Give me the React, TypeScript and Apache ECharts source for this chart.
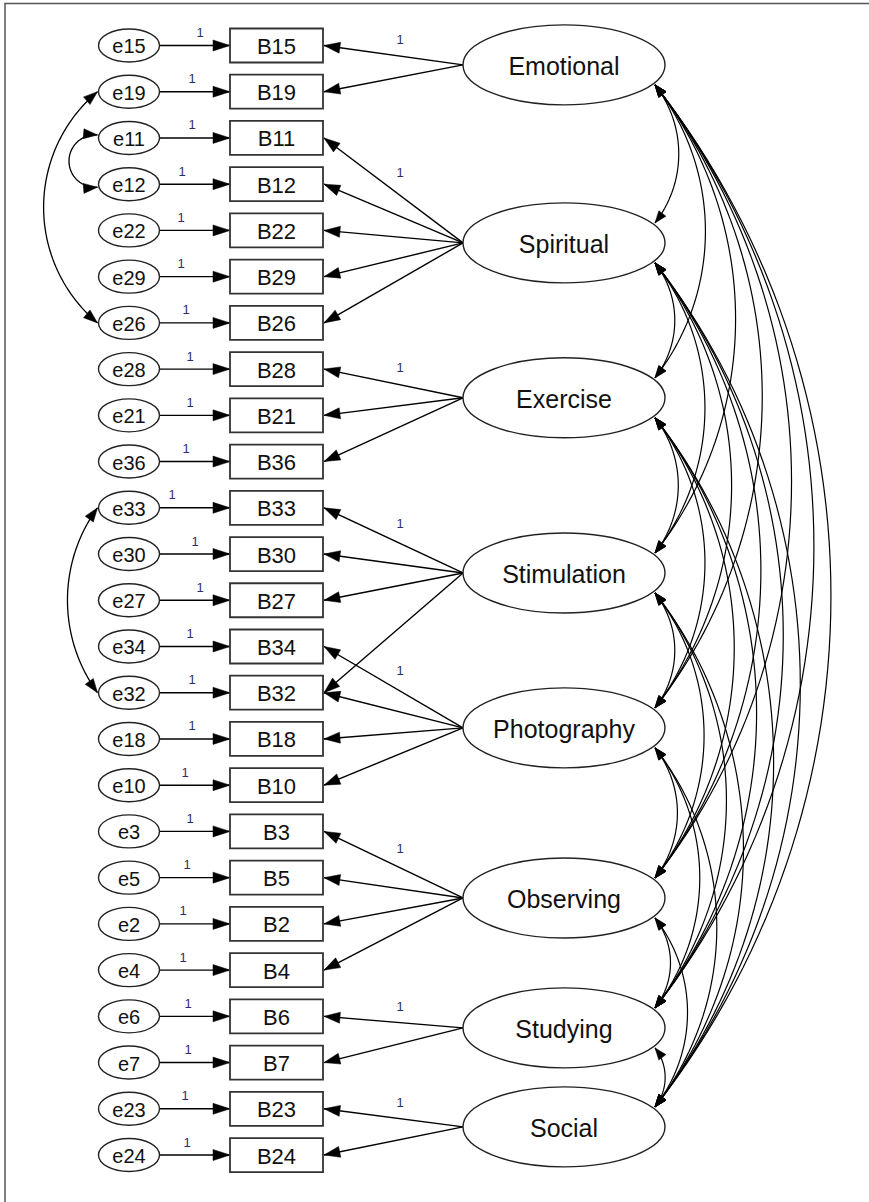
import React, { useEffect, useRef } from "react";
import * as echarts from "echarts";

// ---------------- data ----------------
const indicators = ["B15", "B19", "B11", "B12", "B22", "B29", "B26", "B28", "B21", "B36", "B33", "B30", "B27", "B34", "B32", "B18", "B10", "B3", "B5", "B2", "B4", "B6", "B7", "B23", "B24"];
const errors = ["e15", "e19", "e11", "e12", "e22", "e29", "e26", "e28", "e21", "e36", "e33", "e30", "e27", "e34", "e32", "e18", "e10", "e3", "e5", "e2", "e4", "e6", "e7", "e23", "e24"];
const factors = ["Emotional", "Spiritual", "Exercise", "Stimulation", "Photography", "Observing", "Studying", "Social"];
// vertical position of each latent factor, in indicator-row units
const factorRows = [0.42, 4.27, 7.62, 11.41, 14.76, 18.44, 21.25, 23.39];
// factor -> indicator loadings, with fixed-parameter label
const loadings: [string, string, string][] = [
  ["Emotional", "B15", "1"], ["Emotional", "B19", ""],
  ["Spiritual", "B11", "1"], ["Spiritual", "B12", ""], ["Spiritual", "B22", ""], ["Spiritual", "B29", ""], ["Spiritual", "B26", ""],
  ["Exercise", "B28", "1"], ["Exercise", "B21", ""], ["Exercise", "B36", ""],
  ["Stimulation", "B33", "1"], ["Stimulation", "B30", ""], ["Stimulation", "B27", ""], ["Stimulation", "B32", ""],
  ["Photography", "B34", "1"], ["Photography", "B32", ""], ["Photography", "B18", ""], ["Photography", "B10", ""],
  ["Observing", "B3", "1"], ["Observing", "B5", ""], ["Observing", "B2", ""], ["Observing", "B4", ""],
  ["Studying", "B6", "1"], ["Studying", "B7", ""],
  ["Social", "B23", "1"], ["Social", "B24", ""],
];
const errorLabel = "1";
const errorCovariances: [string, string][] = [["e19", "e26"], ["e11", "e12"], ["e33", "e32"]];
const factorCovariances: [string, string][] = [
  ["Emotional", "Spiritual"], ["Emotional", "Exercise"], ["Emotional", "Stimulation"], ["Emotional", "Photography"], ["Emotional", "Observing"], ["Emotional", "Studying"], ["Emotional", "Social"],
  ["Spiritual", "Exercise"], ["Spiritual", "Stimulation"], ["Spiritual", "Photography"], ["Spiritual", "Observing"], ["Spiritual", "Studying"], ["Spiritual", "Social"],
  ["Exercise", "Stimulation"], ["Exercise", "Photography"], ["Exercise", "Observing"], ["Exercise", "Studying"], ["Exercise", "Social"],
  ["Stimulation", "Photography"], ["Stimulation", "Observing"], ["Stimulation", "Studying"], ["Stimulation", "Social"],
  ["Photography", "Observing"], ["Photography", "Studying"], ["Photography", "Social"],
  ["Observing", "Studying"], ["Observing", "Social"],
  ["Studying", "Social"],
];

// ---------------- layout / style ----------------
const ERR_X = 129, ERR_RX = 30.5, ERR_RY = 16.5;
const BOX_X0 = 230, BOX_X1 = 323, BOX_H = 34;
const FAC_X = 564, FAC_RX = 101, FAC_RY = 40;
const oneLabelX = [200, 192, 192, 182, 181, 181, 186, 190, 190, 186, 172, 195, 200, 190, 192, 192, 185, 190, 187, 183, 183, 188, 188, 185, 187];
const errCovAngle = [100, 190, 72];
const errCovYOff = [[0, 0], [-3, 3], [0, 0]];
const FAC_COV_ANGLE = 76;
const FONT = "'Liberation Sans', Arial, sans-serif";
const INK = "#111";

type P = [number, number];

function arrowHead(tip: P, dir: P, L: number, W: number) {
  const len = Math.hypot(dir[0], dir[1]);
  const ux = dir[0] / len, uy = dir[1] / len;
  const bx = tip[0] - ux * L, by = tip[1] - uy * L;
  return {
    type: "polygon",
    shape: { points: [tip, [bx - uy * W, by + ux * W], [bx + uy * W, by - ux * W]] },
    style: { fill: "#000", stroke: "#000", lineWidth: 0.5 },
  };
}

function arc(p0: P, p1: P, thetaDeg: number, side: number) {
  const dx = p1[0] - p0[0], dy = p1[1] - p0[1];
  const d = Math.hypot(dx, dy);
  const ux = dx / d, uy = dy / d;
  let nx = uy, ny = -ux;
  if (side < 0) { nx = -nx; ny = -ny; }
  const th = (thetaDeg * Math.PI) / 180;
  const R = d / 2 / Math.sin(th / 2);
  const s = (d / 2) * Math.tan(th / 4);
  const mx = (p0[0] + p1[0]) / 2, my = (p0[1] + p1[1]) / 2;
  const cx = mx - nx * (R - s), cy = my - ny * (R - s);
  const pts: P[] = [];
  const N = 60;
  for (let i = 0; i <= N; i++) {
    const phi = -th / 2 + (th * i) / N;
    pts.push([
      cx + R * (Math.cos(phi) * nx + Math.sin(phi) * ux),
      cy + R * (Math.cos(phi) * ny + Math.sin(phi) * uy),
    ]);
  }
  const sn = Math.sin(th / 2), cs = Math.cos(th / 2);
  const startDir: P = [-(sn * nx + cs * ux), -(sn * ny + cs * uy)];
  const endDir: P = [-sn * nx + cs * ux, -sn * ny + cs * uy];
  return { pts, startDir, endDir };
}

function text(t: string, x: number, y: number, size: number, color = INK) {
  return {
    type: "text",
    style: {
      text: t, x, y, fill: color, font: `${size}px ${FONT}`,
      align: "center", verticalAlign: "middle", textAlign: "center", textVerticalAlign: "middle",
    },
  };
}

export default function App() {
  const ref = useRef<HTMLDivElement>(null);
  useEffect(() => {
    const chart = echarts.init(ref.current!, null, { renderer: "svg" });
    const indIdx = (n: string) => indicators.indexOf(n);
    const facIdx = (n: string) => factors.indexOf(n);
    const errIdx = (n: string) => errors.indexOf(n);

    const option: any = {
      animation: false,
      backgroundColor: "#fff",
      grid: { left: 0, right: 0, top: 0, bottom: 0, containLabel: false },
      xAxis: { type: "value", min: 0, max: 869, show: false },
      yAxis: { type: "value", min: -0.984, max: 25.016, inverse: true, show: false },
      graphic: [
        {
          type: "polyline", silent: true, z: -10,
          shape: { points: [[5, 1202], [5, 3.5], [869, 3.5]] },
          style: { fill: null, stroke: "#555", lineWidth: 1.5 },
        },
      ],
      series: [
        // factor covariances
        {
          type: "custom", name: "covariances", coordinateSystem: "cartesian2d", z: 2,
          data: factorCovariances.map(([a, b]) => [factorRows[facIdx(a)], factorRows[facIdx(b)]]),
          renderItem: (params: any, api: any) => {
            const pa = api.coord([FAC_X + 91, api.value(0)]);
            const pb = api.coord([FAC_X + 91, api.value(1)]);
            const p0: P = [pa[0], pa[1] + 20];
            const p1: P = [pb[0], pb[1] - 20];
            const a = arc(p0, p1, FAC_COV_ANGLE, 1);
            return {
              type: "group",
              children: [
                { type: "polyline", shape: { points: a.pts }, style: { stroke: "#000", fill: null, lineWidth: 1.2 } },
                arrowHead(p0, a.startDir, 12, 4.5),
                arrowHead(p1, a.endDir, 12, 4.5),
              ],
            };
          },
        },
        // loadings
        {
          type: "custom", name: "loadings", coordinateSystem: "cartesian2d", z: 2,
          data: loadings.map(([f, ind]) => [factorRows[facIdx(f)], indIdx(ind)]),
          renderItem: (params: any, api: any) => {
            const lab = loadings[params.dataIndex][2];
            const pf = api.coord([FAC_X - FAC_RX, api.value(0)]);
            const pi = api.coord([BOX_X1 + 1, api.value(1)]);
            const p0: P = [pf[0], pf[1]];
            const p1: P = [pi[0], pi[1]];
            const children: any[] = [
              { type: "line", shape: { x1: p0[0], y1: p0[1], x2: p1[0], y2: p1[1] }, style: { stroke: "#000", lineWidth: 1.4 } },
              arrowHead(p1, [p1[0] - p0[0], p1[1] - p0[1]], 16, 5.5),
            ];
            if (lab) {
              const slope = (p0[1] - p1[1]) / (p0[0] - p1[0]);
              const ly = p1[1] + slope * (400 - p1[0]);
              children.push(text(lab, 400, ly - (15 + 10 * Math.abs(slope)), 13, "#2d2d6e"));
            }
            return { type: "group", children };
          },
        },
        // error covariances
        {
          type: "custom", name: "errorCovariances", coordinateSystem: "cartesian2d", z: 2,
          data: errorCovariances.map(([a, b]) => [errIdx(a), errIdx(b)]),
          renderItem: (params: any, api: any) => {
            const i = params.dataIndex;
            const pa = api.coord([ERR_X - ERR_RX - 1, api.value(0)]);
            const pb = api.coord([ERR_X - ERR_RX - 1, api.value(1)]);
            const p0: P = [pa[0], pa[1] + errCovYOff[i][0]];
            const p1: P = [pb[0], pb[1] + errCovYOff[i][1]];
            const a = arc(p0, p1, errCovAngle[i], -1);
            return {
              type: "group",
              children: [
                { type: "polyline", shape: { points: a.pts }, style: { stroke: "#000", fill: null, lineWidth: 1.3 } },
                arrowHead(p0, a.startDir, 14, 5),
                arrowHead(p1, a.endDir, 14, 5),
              ],
            };
          },
        },
        // error terms with their paths
        {
          type: "custom", name: "errors", coordinateSystem: "cartesian2d", z: 3,
          data: errors.map((_, i) => [ERR_X, i]),
          renderItem: (params: any, api: any) => {
            const i = params.dataIndex;
            const c = api.coord([api.value(0), api.value(1)]);
            const x1 = api.coord([ERR_X + ERR_RX, 0])[0];
            const x2 = api.coord([BOX_X0, 0])[0];
            const lx = api.coord([oneLabelX[i], 0])[0];
            return {
              type: "group",
              children: [
                { type: "line", shape: { x1, y1: c[1], x2, y2: c[1] }, style: { stroke: "#000", lineWidth: 1.4 } },
                arrowHead([x2, c[1]], [1, 0], 17, 5.5),
                { type: "ellipse", shape: { cx: c[0], cy: c[1], rx: ERR_RX, ry: ERR_RY }, style: { fill: "#fff", stroke: "#222", lineWidth: 1.4 } },
                text(errors[i], c[0], c[1] + 1, 20),
                text(errorLabel, lx, c[1] - 13, 13, "#2d2d6e"),
              ],
            };
          },
        },
        // indicator boxes
        {
          type: "custom", name: "indicators", coordinateSystem: "cartesian2d", z: 3,
          data: indicators.map((_, i) => [BOX_X0, i]),
          renderItem: (params: any, api: any) => {
            const i = params.dataIndex;
            const c = api.coord([api.value(0), api.value(1)]);
            const xr = api.coord([BOX_X1, 0])[0];
            return {
              type: "group",
              children: [
                { type: "rect", shape: { x: c[0], y: c[1] - BOX_H / 2, width: xr - c[0], height: BOX_H }, style: { fill: "#fff", stroke: "#333", lineWidth: 1.8 } },
                text(indicators[i], (c[0] + xr) / 2, c[1] + 1, 22),
              ],
            };
          },
        },
        // latent factors
        {
          type: "custom", name: "factors", coordinateSystem: "cartesian2d", z: 3,
          data: factors.map((_, i) => [FAC_X, factorRows[i]]),
          renderItem: (params: any, api: any) => {
            const i = params.dataIndex;
            const c = api.coord([api.value(0), api.value(1)]);
            return {
              type: "group",
              children: [
                { type: "ellipse", shape: { cx: c[0], cy: c[1], rx: FAC_RX, ry: FAC_RY }, style: { fill: "#fff", stroke: "#222", lineWidth: 1.4 } },
                text(factors[i], c[0], c[1] + 1, 25),
              ],
            };
          },
        },
      ],
    };
    chart.setOption(option);
    return () => chart.dispose();
  }, []);
  return (
    <div
      ref={ref}
      style={{ position: "absolute", left: 0, top: 0, width: 869, height: 1202, background: "#fff" }}
    />
  );
}
